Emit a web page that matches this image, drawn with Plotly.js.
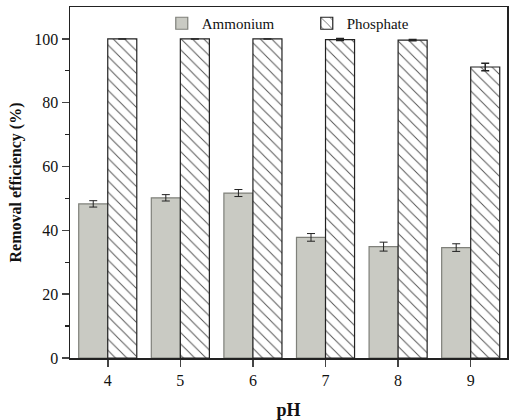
<!DOCTYPE html>
<html><head><meta charset="utf-8">
<script src="https://cdn.plot.ly/plotly-3.0.1.min.js"></script>
<style>body{margin:0;padding:0;background:#fff}#chart{width:511px;height:420px}</style>
</head><body><div id="chart"></div>
<script>
var pH = [4, 5, 6, 7, 8, 9];
var ammonium = [48.3, 50.2, 51.7, 37.8, 34.9, 34.6];
var ammoniumErr = [1.0, 1.0, 1.1, 1.2, 1.4, 1.2];
var phosphate = [100, 100, 100, 99.8, 99.6, 91.2];
var phosphateErr = [0, 0, 0, 0.3, 0.2, 1.2];

var serif = '"Liberation Serif", "Times New Roman", serif';
var traces = [
  {type:'bar', name:'Ammonium', x:pH, y:ammonium,
   marker:{color:'#c9cac3', line:{color:'#7f807a', width:1.2}},
   error_y:{type:'data', array:ammoniumErr, visible:true, color:'#222', thickness:1, width:4}},
  {type:'bar', name:'Phosphate', x:pH, y:phosphate,
   marker:{color:'#ffffff', line:{color:'#222', width:1.2},
     pattern:{shape:'\\', fgcolor:'#555', bgcolor:'#ffffff', size:8, solidity:0.12}},
   error_y:{type:'data', array:phosphateErr, visible:true, color:'#222', thickness:1.5, width:4}}
];
var layout = {
  width:511, height:420,
  margin:{l:70, r:4, t:7, b:62},
  paper_bgcolor:'#fff', plot_bgcolor:'#fff',
  barmode:'group', bargap:0.2, bargroupgap:0,
  font:{family:serif, size:14, color:'#111'},
  showlegend:true,
  legend:{orientation:'h', x:0.21, y:1.0, xanchor:'left', yanchor:'top',
    entrywidth:100, entrywidthmode:'pixels',
    font:{family:serif, size:15, color:'#111'}, bgcolor:'rgba(0,0,0,0)', traceorder:'normal'},
  xaxis:{range:[3.48, 9.5], tickvals:pH, ticks:'outside', ticklen:7, tickwidth:1.5,
    showline:true, linecolor:'#222', linewidth:1.5, mirror:true, showgrid:false, zeroline:false,
    tickfont:{family:serif, size:16},
    title:{text:'<b>pH</b>', font:{family:serif, size:18}, standoff:18}},
  yaxis:{range:[0, 110], tickvals:[0,20,40,60,80,100], ticks:'outside', ticklen:7, tickwidth:1.5,
    minor:{tickvals:[10,30,50,70,90], ticks:'outside', ticklen:4, tickwidth:1.2, tickcolor:'#222'},
    showline:true, linecolor:'#222', linewidth:1.5, mirror:true, showgrid:false, zeroline:false,
    tickfont:{family:serif, size:16},
    title:{text:'<b>Removal efficiency (%)</b>', font:{family:serif, size:16}, standoff:8}}
};
Plotly.newPlot('chart', traces, layout, {displayModeBar:false, staticPlot:true});
</script></body></html>
